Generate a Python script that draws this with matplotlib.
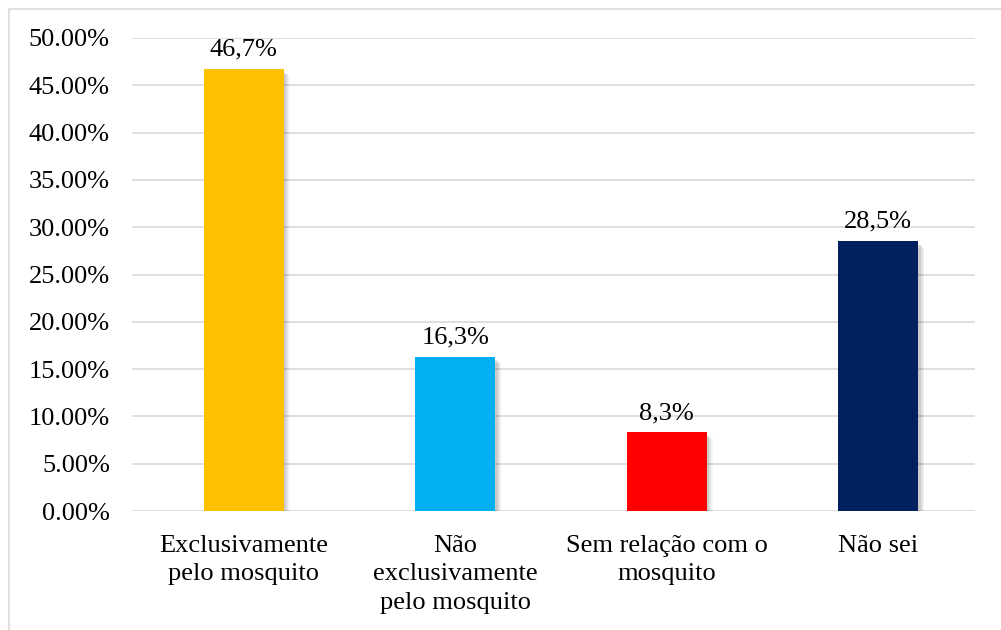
import matplotlib
matplotlib.use("Agg")
import matplotlib.pyplot as plt
from matplotlib.patches import Rectangle
from matplotlib.ticker import FuncFormatter
import numpy as np

categories = ["Exclusivamente\npelo mosquito", "Não\nexclusivamente\npelo mosquito",
              "Sem relação com o\nmosquito", "Não sei"]
values = [46.7, 16.3, 8.3, 28.5]
labels = ["46,7%", "16,3%", "8,3%", "28,5%"]
colors = ["#FFC000", "#00B0F0", "#FF0000", "#002060"]
yticks = [0, 5, 10, 15, 20, 25, 30, 35, 40, 45, 50]

plt.rcParams["font.family"] = ["Liberation Serif", "DejaVu Serif"]
FS = 19

fig = plt.figure(figsize=(10.01, 6.30), dpi=100)
# thin grey frame around the chart area
fig.patches.append(Rectangle((9 / 1001, -0.01), 1.0, 1 - 9 / 630 + 0.01, transform=fig.transFigure,
                             fill=False, edgecolor="#d9d9d9", linewidth=1.2))
ax = fig.add_axes([132 / 1001, 1 - 511 / 630, 843 / 1001, 473 / 630])

x = np.arange(len(categories))
w = 0.38
# soft shadow: a few offset translucent bars
for i, a in enumerate([0.10, 0.07, 0.04]):
    off = 0.012 + i * 0.008
    ax.bar(x + off, np.array(values) - 0.15 * (i + 1), width=w, bottom=-0.2,
           color="black", alpha=a, zorder=2, linewidth=0)
ax.bar(x, values, width=w, color=colors, zorder=3, linewidth=0)

for xi, v, lab in zip(x, values, labels):
    ax.text(xi, v + 0.9, lab, ha="center", va="bottom", fontsize=FS, color="black", zorder=4)

ax.set_xlim(-0.5 - 6 / 211, len(categories) - 0.5 - 9 / 211)
ax.set_ylim(0, 50)
ax.set_yticks(yticks)
ax.yaxis.set_major_formatter(FuncFormatter(lambda v, p: f"{v:.2f}%"))
ax.set_xticks(x)
ax.set_xticklabels(categories, fontsize=FS, linespacing=1.4)
ax.tick_params(axis="y", labelsize=FS, length=0, pad=16)
ax.tick_params(axis="x", length=0, pad=17)
ax.grid(axis="y", color="#d9d9d9", linewidth=1.2, zorder=0)
ax.set_axisbelow(True)
for s in ["top", "right", "left", "bottom"]:
    ax.spines[s].set_visible(False)

fig.savefig("out.png", dpi=100)
